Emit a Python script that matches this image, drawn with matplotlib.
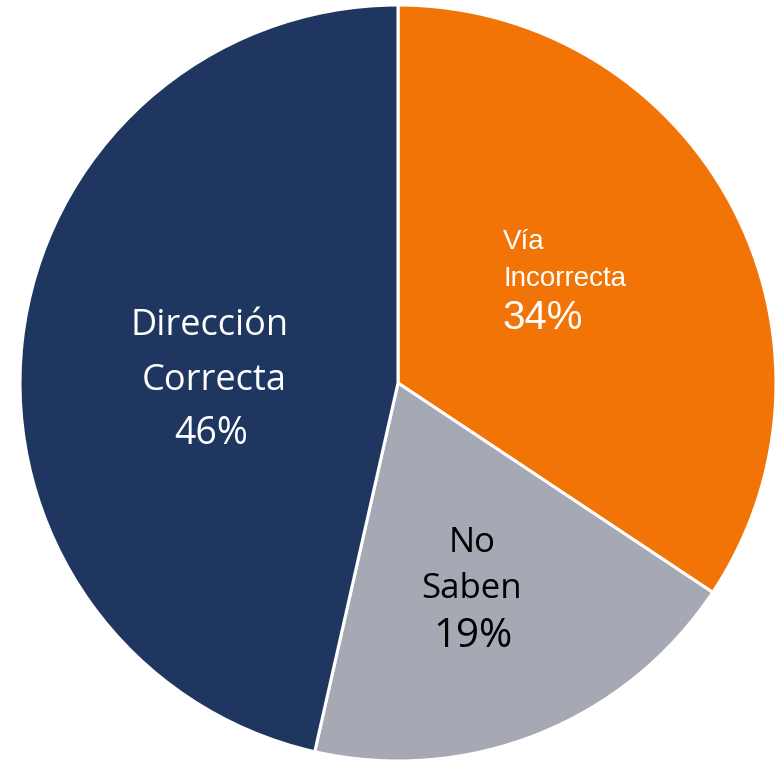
import matplotlib.pyplot as plt
from matplotlib import font_manager

# Data
names = ['Vía Incorrecta', 'No Saben', 'Dirección Correcta']
values = [34, 19, 46]
colors = ['#F27407', '#A6A8B3', '#1F3760']

fig = plt.figure(figsize=(7.79, 7.6), dpi=100)
ax = fig.add_axes([0, 0, 1, 1])

# pie centre at about (398, 383) px, radius about 378 px
cx, cy, r = 398, 383, 378

ax.pie(values, colors=colors, startangle=90, counterclock=False,
       radius=1.0, wedgeprops=dict(edgecolor='white', linewidth=2.2))
ax.set_xlim(-cx / r, (779 - cx) / r)
ax.set_ylim(-(760 - cy) / r, cy / r)
ax.set_aspect('auto')
ax.axis('off')


def px(x, y):
    return (x - cx) / r, (cy - y) / r


installed = {f.name for f in font_manager.fontManager.ttflist}
if 'Liberation Sans Narrow' in installed:
    narrow, narrow_size = ['Liberation Sans Narrow'], 23
else:
    narrow, narrow_size = ['Liberation Sans', 'DejaVu Sans'], 20
arial = ['Liberation Sans', 'DejaVu Sans']
body = ['Open Sans', 'DejaVu Sans']

# Vía Incorrecta (left aligned, baselines in px)
ax.text(*px(503, 249), 'Vía', color='white', fontsize=narrow_size, family=narrow,
        ha='left', va='baseline')
ax.text(*px(503, 286), 'Incorrecta', color='white', fontsize=narrow_size, family=narrow,
        ha='left', va='baseline')
ax.text(*px(502, 329), f'{values[0]}%', color='white', fontsize=29, family=arial,
        ha='left', va='baseline')

# No Saben
ax.text(*px(472, 552), 'No', color='black', fontsize=25, family=body,
        ha='center', va='baseline')
ax.text(*px(471, 598), 'Saben', color='black', fontsize=25, family=body,
        ha='center', va='baseline')
ax.text(*px(473, 647), f'{values[1]}%', color='black', fontsize=29, family=body,
        ha='center', va='baseline')

# Dirección Correcta
ax.text(*px(210, 335), 'Dirección', color='white', fontsize=26, family=body,
        ha='center', va='baseline')
ax.text(*px(214, 390), 'Correcta', color='white', fontsize=26, family=body,
        ha='center', va='baseline')
ax.text(*px(211, 444), f'{values[2]}%', color='white', fontsize=27, family=body,
        ha='center', va='baseline')

fig.savefig('out.png', dpi=100)
